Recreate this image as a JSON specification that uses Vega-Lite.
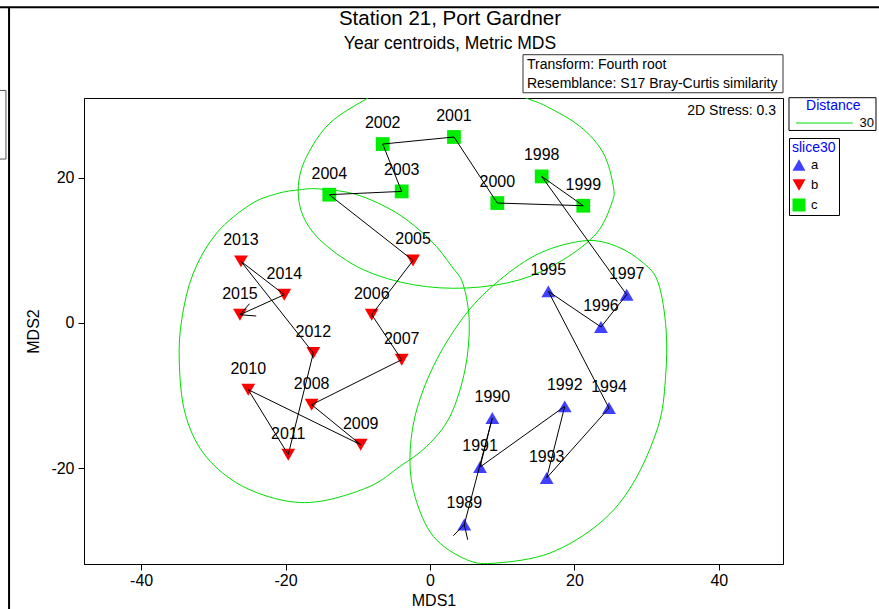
{
  "$schema": "https://vega.github.io/schema/vega-lite/v6.json",
  "width": 699,
  "height": 466,
  "autosize": {"type": "none"},
  "padding": {"left": 84, "top": 98, "right": 96, "bottom": 45},
  "background": "white",
  "config": {
    "font": "Liberation Sans",
    "view": {"stroke": "black", "strokeWidth": 1},
    "axis": {
      "grid": false,
      "domainColor": "black",
      "tickColor": "black",
      "tickSize": 6,
      "labelFont": "Liberation Sans",
      "titleFont": "Liberation Sans",
      "labelFontSize": 16,
      "labelColor": "black",
      "titleFontSize": 16,
      "titleFontWeight": "normal",
      "titleColor": "black"
    }
  },
  "datasets": {
    "pts": [
      {"year": 1989, "x": 4.75, "y": -27.7, "slice": "a"},
      {"year": 1990, "x": 8.63, "y": -13.06, "slice": "a"},
      {"year": 1991, "x": 6.93, "y": -19.8, "slice": "a"},
      {"year": 1992, "x": 18.66, "y": -11.46, "slice": "a"},
      {"year": 1993, "x": 16.16, "y": -21.3, "slice": "a"},
      {"year": 1994, "x": 24.79, "y": -11.69, "slice": "a"},
      {"year": 1995, "x": 16.39, "y": 4.35, "slice": "a"},
      {"year": 1996, "x": 23.68, "y": -0.55, "slice": "a"},
      {"year": 1997, "x": 27.24, "y": 3.89, "slice": "a"},
      {"year": 1998, "x": 15.47, "y": 20.15, "slice": "c"},
      {"year": 1999, "x": 21.23, "y": 16.12, "slice": "c"},
      {"year": 2000, "x": 9.32, "y": 16.49, "slice": "c"},
      {"year": 2001, "x": 3.32, "y": 25.57, "slice": "c"},
      {"year": 2002, "x": -6.55, "y": 24.6, "slice": "c"},
      {"year": 2003, "x": -3.92, "y": 18.09, "slice": "c"},
      {"year": 2004, "x": -13.95, "y": 17.64, "slice": "c"},
      {"year": 2005, "x": -2.35, "y": 8.6, "slice": "b"},
      {"year": 2006, "x": -8.07, "y": 1.14, "slice": "b"},
      {"year": 2007, "x": -3.92, "y": -5.04, "slice": "b"},
      {"year": 2008, "x": -16.39, "y": -11.23, "slice": "b"},
      {"year": 2009, "x": -9.6, "y": -16.73, "slice": "b"},
      {"year": 2010, "x": -25.17, "y": -9.17, "slice": "b"},
      {"year": 2011, "x": -19.63, "y": -18.1, "slice": "b"},
      {"year": 2012, "x": -16.16, "y": -4.12, "slice": "b"},
      {"year": 2013, "x": -26.18, "y": 8.47, "slice": "b"},
      {"year": 2014, "x": -20.18, "y": 3.89, "slice": "b"},
      {"year": 2015, "x": -26.32, "y": 1.14, "slice": "b"}
    ],
    "segs": [
      {"x": 4.75, "y": -27.7, "x2": 5.22, "y2": -29.8},
      {"x": 4.75, "y": -27.7, "x2": 3.23, "y2": -29.24},
      {"x": -26.32, "y": 1.14, "x2": -25.0, "y2": 2.65},
      {"x": -26.32, "y": 1.14, "x2": -24.07, "y2": 0.96}
    ],
    "ell": [
      {"g": "a", "i": 0, "x": 21.47, "y": 11.31},
      {"g": "a", "i": 1, "x": 25.86, "y": 10.53},
      {"g": "a", "i": 2, "x": 29.54, "y": 8.25},
      {"g": "a", "i": 3, "x": 31.62, "y": 5.5},
      {"g": "a", "i": 4, "x": 32.7, "y": -0.92},
      {"g": "a", "i": 5, "x": 32.6, "y": -7.79},
      {"g": "a", "i": 6, "x": 31.6, "y": -14.21},
      {"g": "a", "i": 7, "x": 28.16, "y": -21.99},
      {"g": "a", "i": 8, "x": 23.55, "y": -27.49},
      {"g": "a", "i": 9, "x": 16.62, "y": -31.62},
      {"g": "a", "i": 10, "x": 9.24, "y": -32.99},
      {"g": "a", "i": 11, "x": 5.08, "y": -32.54},
      {"g": "a", "i": 12, "x": 0.46, "y": -29.33},
      {"g": "a", "i": 13, "x": -2.08, "y": -23.84},
      {"g": "a", "i": 14, "x": -2.77, "y": -18.34},
      {"g": "a", "i": 15, "x": -1.84, "y": -11.92},
      {"g": "a", "i": 16, "x": 0.93, "y": -5.04},
      {"g": "a", "i": 17, "x": 5.08, "y": 1.37},
      {"g": "a", "i": 18, "x": 9.7, "y": 5.95},
      {"g": "a", "i": 19, "x": 15.24, "y": 9.62},
      {"g": "b", "i": 0, "x": -21.23, "y": 17.77},
      {"g": "b", "i": 1, "x": -18.01, "y": 18.32},
      {"g": "b", "i": 2, "x": -15.24, "y": 18.42},
      {"g": "b", "i": 3, "x": -10.15, "y": 17.64},
      {"g": "b", "i": 4, "x": -4.61, "y": 15.12},
      {"g": "b", "i": 5, "x": 0.0, "y": 11.45},
      {"g": "b", "i": 6, "x": 3.01, "y": 7.78},
      {"g": "b", "i": 7, "x": 4.61, "y": 5.26},
      {"g": "b", "i": 8, "x": 5.44, "y": 0.0},
      {"g": "b", "i": 9, "x": 4.85, "y": -6.42},
      {"g": "b", "i": 10, "x": 2.77, "y": -12.84},
      {"g": "b", "i": 11, "x": -0.46, "y": -16.96},
      {"g": "b", "i": 12, "x": -4.16, "y": -19.71},
      {"g": "b", "i": 13, "x": -8.31, "y": -22.46},
      {"g": "b", "i": 14, "x": -15.24, "y": -24.52},
      {"g": "b", "i": 15, "x": -20.78, "y": -24.29},
      {"g": "b", "i": 16, "x": -26.77, "y": -21.99},
      {"g": "b", "i": 17, "x": -31.4, "y": -17.87},
      {"g": "b", "i": 18, "x": -33.93, "y": -12.37},
      {"g": "b", "i": 19, "x": -34.72, "y": -5.5},
      {"g": "b", "i": 20, "x": -34.39, "y": 0.45},
      {"g": "b", "i": 21, "x": -32.78, "y": 6.87},
      {"g": "b", "i": 22, "x": -29.54, "y": 12.37},
      {"g": "b", "i": 23, "x": -24.93, "y": 16.26},
      {"g": "c", "i": 0, "x": -8.55, "y": 30.96},
      {"g": "c", "i": 1, "x": -13.85, "y": 27.49},
      {"g": "c", "i": 2, "x": -17.08, "y": 22.9},
      {"g": "c", "i": 3, "x": -18.24, "y": 18.78},
      {"g": "c", "i": 4, "x": -17.55, "y": 14.65},
      {"g": "c", "i": 5, "x": -14.78, "y": 11.0},
      {"g": "c", "i": 6, "x": -9.24, "y": 7.33},
      {"g": "c", "i": 7, "x": -2.31, "y": 5.26},
      {"g": "c", "i": 8, "x": 5.08, "y": 4.81},
      {"g": "c", "i": 9, "x": 12.47, "y": 5.95},
      {"g": "c", "i": 10, "x": 18.46, "y": 8.7},
      {"g": "c", "i": 11, "x": 23.09, "y": 12.37},
      {"g": "c", "i": 12, "x": 25.17, "y": 16.49},
      {"g": "c", "i": 13, "x": 25.39, "y": 18.78},
      {"g": "c", "i": 14, "x": 24.0, "y": 23.37},
      {"g": "c", "i": 15, "x": 20.78, "y": 27.02},
      {"g": "c", "i": 16, "x": 16.16, "y": 29.77},
      {"g": "c", "i": 17, "x": 13.16, "y": 30.97},
      {"g": "c", "i": 18, "x": 8.31, "y": 32.9},
      {"g": "c", "i": 19, "x": 1.39, "y": 33.7},
      {"g": "c", "i": 20, "x": -4.85, "y": 32.9}
    ]
  },
  "layer": [
    {
      "data": {"name": "ell"},
      "mark": {"type": "line", "interpolate": "cardinal-closed", "strokeWidth": 1, "clip": true, "color": "#00dd00"},
      "encoding": {
        "x": {
          "field": "x", "type": "quantitative",
          "scale": {"domain": [-47.92, 48.89], "nice": false, "zero": false},
          "axis": {"values": [-40, -20, 0, 20, 40], "title": "MDS1", "labelPadding": 2, "titlePadding": 4, "labelExpr": "'' + datum.value"}
        },
        "y": {
          "field": "y", "type": "quantitative",
          "scale": {"domain": [-33.13, 30.93], "nice": false, "zero": false},
          "axis": {"values": [-20, 0, 20], "title": "MDS2", "labelPadding": 4, "titlePadding": 9, "labelExpr": "'' + datum.value"}
        },
        "order": {"field": "i", "type": "quantitative"},
        "detail": {"field": "g"}
      }
    },
    {
      "data": {"name": "pts"},
      "mark": {"type": "point", "filled": true, "size": 190, "opacity": 1, "strokeWidth": 0},
      "encoding": {
        "x": {"field": "x", "type": "quantitative"},
        "y": {"field": "y", "type": "quantitative"},
        "fill": {
          "field": "slice", "type": "nominal",
          "scale": {"domain": ["a", "b", "c"], "range": ["#4040ff", "#ff0000", "#00ee00"]},
          "legend": {
            "title": "slice30",
            "orient": "none",
            "legendX": 705,
            "legendY": 40,
            "titleColor": "#0000ff",
            "titleFont": "Liberation Sans",
            "titleFontSize": 14,
            "titleFontWeight": "normal",
            "titlePadding": 3,
            "labelFont": "Liberation Sans",
            "labelFontSize": 13,
            "labelColor": "black",
            "labelOffset": 5,
            "symbolSize": 170,
            "symbolStrokeWidth": 0,
            "rowPadding": 6,
            "strokeColor": "black",
            "fillColor": "white",
            "padding": 3
          }
        },
        "shape": {
          "field": "slice", "type": "nominal",
          "scale": {"domain": ["a", "b", "c"], "range": ["triangle-up", "triangle-down", "square"]},
          "legend": {
            "title": "slice30",
            "orient": "none",
            "legendX": 705,
            "legendY": 40,
            "titleColor": "#0000ff",
            "titleFont": "Liberation Sans",
            "titleFontSize": 14,
            "titleFontWeight": "normal",
            "titlePadding": 3,
            "labelFont": "Liberation Sans",
            "labelFontSize": 13,
            "labelColor": "black",
            "labelOffset": 5,
            "symbolSize": 170,
            "symbolStrokeWidth": 0,
            "rowPadding": 6,
            "strokeColor": "black",
            "fillColor": "white",
            "padding": 3
          }
        }
      }
    },
    {
      "data": {"name": "pts"},
      "mark": {"type": "line", "color": "black", "strokeWidth": 1},
      "encoding": {
        "x": {"field": "x", "type": "quantitative"},
        "y": {"field": "y", "type": "quantitative"},
        "order": {"field": "year", "type": "quantitative"}
      }
    },
    {
      "data": {"name": "segs"},
      "mark": {"type": "rule", "color": "black", "strokeWidth": 1},
      "encoding": {
        "x": {"field": "x", "type": "quantitative"},
        "y": {"field": "y", "type": "quantitative"},
        "x2": {"field": "x2"},
        "y2": {"field": "y2"}
      }
    },
    {
      "data": {"name": "pts"},
      "mark": {"type": "text", "dy": -21, "fontSize": 16, "font": "Liberation Sans", "color": "black", "baseline": "middle", "align": "center"},
      "encoding": {
        "x": {"field": "x", "type": "quantitative"},
        "y": {"field": "y", "type": "quantitative"},
        "text": {"field": "year", "type": "nominal"}
      }
    },
    {
      "data": {"values": [{}]},
      "mark": {"type": "text", "text": "2D Stress: 0.3", "fontSize": 14, "font": "Liberation Sans", "color": "black", "align": "right", "baseline": "middle"},
      "encoding": {"x": {"datum": 47.92}, "y": {"datum": 29.18}}
    },
    {
      "data": {"values": [{}]},
      "mark": {"type": "text", "text": "Station 21, Port Gardner", "fontSize": 20.5, "font": "Liberation Sans", "color": "black", "align": "center", "baseline": "middle"},
      "encoding": {"x": {"datum": 2.77}, "y": {"datum": 41.83}}
    },
    {
      "data": {"values": [{}]},
      "mark": {"type": "text", "text": "Year centroids, Metric MDS", "fontSize": 17.5, "font": "Liberation Sans", "color": "black", "align": "center", "baseline": "middle"},
      "encoding": {"x": {"datum": 2.77}, "y": {"datum": 38.39}}
    },
    {
      "data": {"values": [{}]},
      "mark": {"type": "rect", "fill": "white", "stroke": "#333333", "strokeWidth": 1, "clip": false},
      "encoding": {"x": {"datum": 12.88}, "x2": {"datum": 48.89}, "y": {"datum": 36.88}, "y2": {"datum": 31.65}}
    },
    {
      "data": {"values": [{}]},
      "mark": {"type": "text", "text": "Transform: Fourth root", "fontSize": 14, "font": "Liberation Sans", "color": "black", "align": "left", "baseline": "middle"},
      "encoding": {"x": {"datum": 13.43}, "y": {"datum": 35.5}}
    },
    {
      "data": {"values": [{}]},
      "mark": {"type": "text", "text": "Resemblance: S17 Bray-Curtis similarity", "fontSize": 14, "font": "Liberation Sans", "color": "black", "align": "left", "baseline": "middle"},
      "encoding": {"x": {"datum": 13.43}, "y": {"datum": 32.9}}
    },
    {
      "data": {"values": [{}]},
      "mark": {"type": "rect", "fill": "white", "stroke": "black", "strokeWidth": 1},
      "encoding": {"x": {"datum": 49.72}, "x2": {"datum": 61.77}, "y": {"datum": 30.97}, "y2": {"datum": 26.47}}
    },
    {
      "data": {"values": [{}]},
      "mark": {"type": "text", "text": "Distance", "fontSize": 14, "font": "Liberation Sans", "color": "#0000ff", "align": "center", "baseline": "middle"},
      "encoding": {"x": {"datum": 55.86}, "y": {"datum": 29.77}}
    },
    {
      "data": {"values": [{}]},
      "mark": {"type": "rule", "color": "#00dd00", "strokeWidth": 1},
      "encoding": {"x": {"datum": 50.69}, "x2": {"datum": 58.55}, "y": {"datum": 27.49}}
    },
    {
      "data": {"values": [{}]},
      "mark": {"type": "text", "text": "30", "fontSize": 13, "font": "Liberation Sans", "color": "black", "align": "right", "baseline": "middle"},
      "encoding": {"x": {"datum": 61.5}, "y": {"datum": 27.49}}
    },
    {
      "data": {"values": [{}]},
      "mark": {"type": "rule", "color": "black", "strokeWidth": 2},
      "encoding": {"x": {"datum": -58.3}, "y": {"datum": 43.4}, "y2": {"datum": -45}}
    },
    {
      "data": {"values": [{}]},
      "mark": {"type": "rule", "color": "black", "strokeWidth": 2},
      "encoding": {"x": {"datum": -62}, "x2": {"datum": 63}, "y": {"datum": 43.4}}
    },
    {
      "data": {"values": [{}]},
      "mark": {"type": "rect", "fill": "white", "stroke": "#555555", "strokeWidth": 1},
      "encoding": {"x": {"datum": -61}, "x2": {"datum": -58.73}, "y": {"datum": 31.97}, "y2": {"datum": 22.54}}
    }
  ]
}
